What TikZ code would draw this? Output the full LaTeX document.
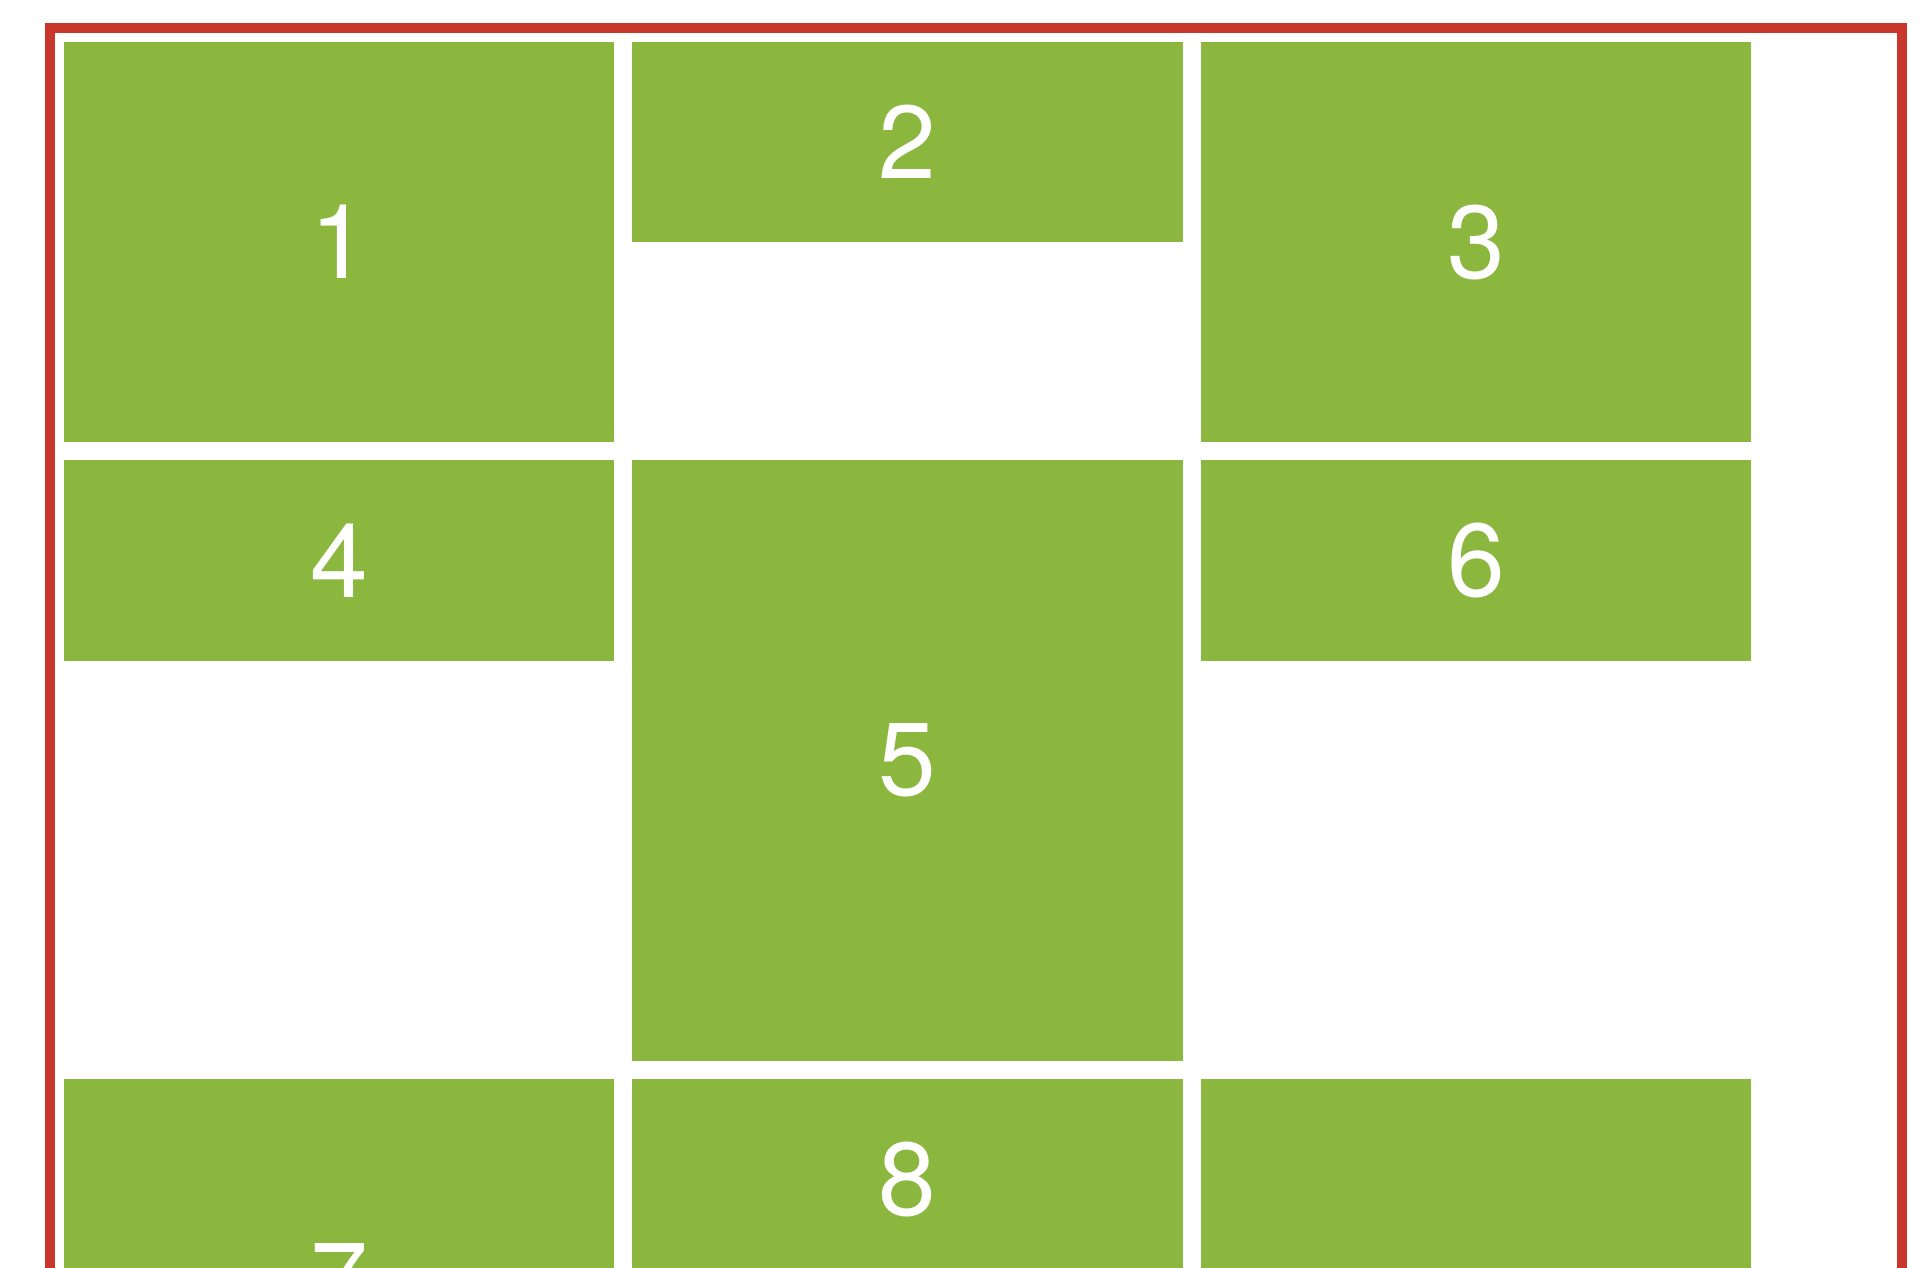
\documentclass[tikz,border=0pt]{standalone}
\usepackage{fontspec}
\setmainfont{TeX Gyre Heros}
\definecolor{boxgreen}{RGB}{139,183,63}
\definecolor{framered}{RGB}{201,55,44}
\begin{document}
\begin{tikzpicture}[x=0.01cm,y=-0.01cm,
  cell/.style={fill=boxgreen, draw=none, inner sep=0pt, outer sep=0pt,
    anchor=north west, minimum width=5.5cm, text=white,
    font=\fontsize{29.5}{35}\selectfont},
  short/.style={minimum height=2cm},
  mid/.style={minimum height=4cm},
  tall/.style={minimum height=6cm},
  frame/.style={draw=framered, line width=0.095cm}]
\useasboundingbox (0,0) rectangle (1924,1268);
\clip (0,0) rectangle (1924,1268);
\fill[white] (0,0) rectangle (1924,1268);
\draw[frame] (49.8,28) rectangle (1902,1500);
% row 1
\node[cell, mid]   (b1) at (63.8,42)    {1};
\node[cell, short] (b2) at (632.2,42)   {2};
\node[cell, mid]   (b3) at (1200.8,42)  {3};
% row 2
\node[cell, short] (b4) at (63.8,460.5)   {4};
\node[cell, tall]  (b5) at (632.2,460.5)  {5};
\node[cell, short] (b6) at (1200.8,460.5) {6};
% row 3
\node[cell, mid]   (b7) at (63.8,1079)   {7};
\node[cell, short] (b8) at (632.2,1079)  {8};
\node[cell, tall]  (b9) at (1200.8,1079) {};
\end{tikzpicture}
\end{document}
